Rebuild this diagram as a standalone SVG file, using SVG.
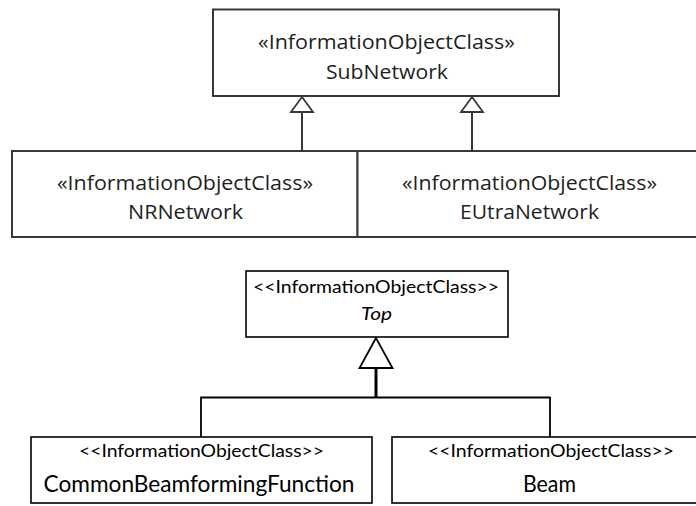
<svg xmlns="http://www.w3.org/2000/svg" width="696" height="506" viewBox="0 0 696 506">
<style>
.bx1{fill:#fff;stroke:#383838;stroke-width:2}
.bx2{fill:#fff;stroke:#000;stroke-width:1.6}
.t1{font-family:"Open Sans","Noto Sans",sans-serif;font-size:19.5px;fill:#1e1e1e;text-anchor:middle}
.t2{font-family:Lato,"Liberation Sans",sans-serif;font-size:17px;fill:#000;text-anchor:middle}
.t3{font-family:Lato,"Liberation Sans",sans-serif;font-size:23px;fill:#000;text-anchor:middle}
.ln1{fill:none;stroke:#383838;stroke-width:2}
.ln2{fill:none;stroke:#000;stroke-width:1.8}
.tri1{fill:#fff;stroke:#383838;stroke-width:1.8}
.tri2{fill:#fff;stroke:#000;stroke-width:1.8}
</style>
<rect width="696" height="506" fill="#fff"/>
<g id="connectors">
<line class="ln1" x1="302" y1="112" x2="302" y2="151"/>
<polygon class="tri1" points="302,97 291,112 313,112"/>
<line class="ln1" x1="472" y1="112" x2="472" y2="151"/>
<polygon class="tri1" points="472,97 461,112 483,112"/>
<polyline class="ln2" points="201,437 201,397.5 550,397.5 550,437"/>
<line x1="376" y1="368" x2="376" y2="397.5" stroke="#000" stroke-width="3"/>
<polygon class="tri2" points="376,338 359.5,368 392.5,368"/>
</g>
<g id="SubNetwork">
<rect class="bx1" x="213" y="9.5" width="346" height="86.5"/>
<text class="t1" x="386.5" y="49" textLength="257" lengthAdjust="spacingAndGlyphs">«InformationObjectClass»</text>
<text class="t1" x="387" y="79" textLength="122" lengthAdjust="spacingAndGlyphs">SubNetwork</text>
</g>
<g id="NRNetwork">
<rect class="bx1" x="12" y="151" width="345.5" height="86"/>
<text class="t1" x="185" y="190" textLength="256" lengthAdjust="spacingAndGlyphs">«InformationObjectClass»</text>
<text class="t1" x="185.5" y="219" textLength="115" lengthAdjust="spacingAndGlyphs">NRNetwork</text>
</g>
<g id="EUtraNetwork">
<rect class="bx1" x="357.5" y="151" width="345" height="86"/>
<text class="t1" x="529.5" y="190" textLength="255" lengthAdjust="spacingAndGlyphs">«InformationObjectClass»</text>
<text class="t1" x="529.5" y="219" textLength="139" lengthAdjust="spacingAndGlyphs">EUtraNetwork</text>
</g>
<g id="Top">
<rect class="bx2" x="246" y="271" width="262" height="66"/>
<text class="t2" x="376" y="293.3" textLength="246" lengthAdjust="spacingAndGlyphs">&lt;&lt;InformationObjectClass&gt;&gt;</text>
<text class="t2" x="376.5" y="320" font-style="italic" font-size="18" textLength="31" lengthAdjust="spacingAndGlyphs">Top</text>
</g>
<g id="CommonBeamformingFunction">
<rect class="bx2" x="31" y="437" width="341" height="66"/>
<text class="t2" x="201.5" y="456.7" textLength="245" lengthAdjust="spacingAndGlyphs">&lt;&lt;InformationObjectClass&gt;&gt;</text>
<text class="t3" x="199" y="491.5" textLength="311" lengthAdjust="spacingAndGlyphs">CommonBeamformingFunction</text>
</g>
<g id="Beam">
<rect class="bx2" x="392" y="437" width="316" height="66"/>
<text class="t2" x="551" y="456.7" textLength="246" lengthAdjust="spacingAndGlyphs">&lt;&lt;InformationObjectClass&gt;&gt;</text>
<text class="t3" x="549.5" y="491.5" textLength="53" lengthAdjust="spacingAndGlyphs">Beam</text>
</g>
</svg>
